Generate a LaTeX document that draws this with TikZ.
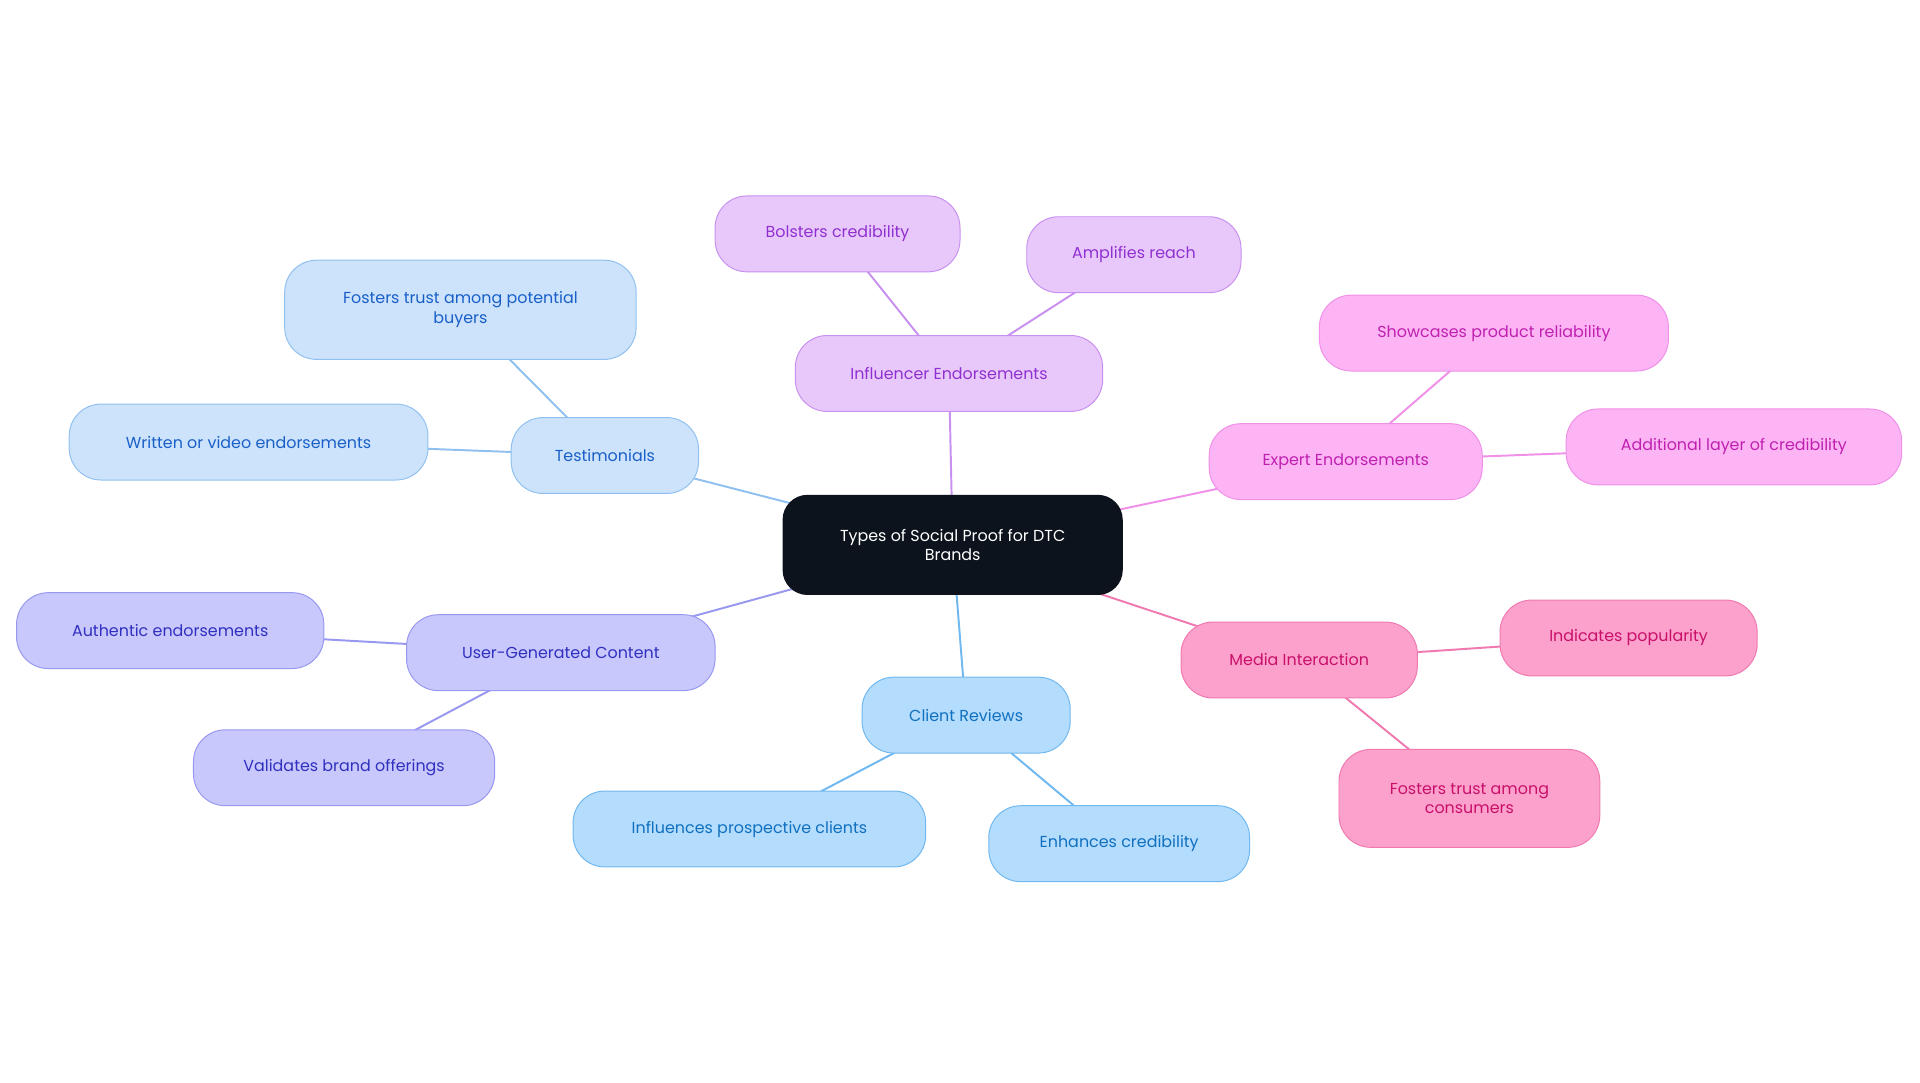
\documentclass[tikz,border=0pt]{standalone}
\usepackage{fontspec}
\setmainfont{Poppins}
\usetikzlibrary{backgrounds}
\definecolor{tf}{HTML}{CCE3FB}\definecolor{tb}{HTML}{90C0F0}\definecolor{tt}{HTML}{1A5FC8}
\definecolor{if}{HTML}{E8C8FB}\definecolor{ib}{HTML}{C890F0}\definecolor{it}{HTML}{9030D0}
\definecolor{ef}{HTML}{FCB4F4}\definecolor{eb}{HTML}{F090E8}\definecolor{et}{HTML}{C020B0}
\definecolor{mf}{HTML}{FCA0CC}\definecolor{mb}{HTML}{F07AB0}\definecolor{mt}{HTML}{C8106A}
\definecolor{cf}{HTML}{B4DCFC}\definecolor{cb}{HTML}{70B8F0}\definecolor{ct}{HTML}{1070C0}
\definecolor{uf}{HTML}{C8C8FC}\definecolor{ub}{HTML}{9898F0}\definecolor{ut}{HTML}{3030C0}
\tikzset{
 bx/.style={draw, line width=0.8pt, rounded corners=26pt, align=center, inner sep=0pt, font=\fontsize{13}{13}\selectfont},
 tn/.style={bx, fill=tf, draw=tb, text=tt}, in/.style n args={0}{},
 inn/.style={bx, fill=if, draw=ib, text=it},
 en/.style={bx, fill=ef, draw=eb, text=et},
 mn/.style={bx, fill=mf, draw=mb, text=mt},
 cn/.style={bx, fill=cf, draw=cb, text=ct},
 un/.style={bx, fill=uf, draw=ub, text=ut},
 ln/.style={line width=1.6pt},
}
\begin{document}
\begin{tikzpicture}[x=1pt,y=-1pt]
\useasboundingbox (0,0) rectangle (1568,884);
\node[bx, fill=black!90!blue!60!black, fill={rgb,255:red,13;green,19;blue,28}, draw={rgb,255:red,13;green,19;blue,28}, text=white, minimum width=277pt, minimum height=81pt, rounded corners=20pt] (c) at (778,445) {Types of Social Proof for DTC\\[2pt]Brands};
\node[tn, minimum width=153pt, minimum height=62pt] (t) at (494,372) {Testimonials};
\node[tn, minimum width=287pt, minimum height=81pt] (t1) at (376,253) {Fosters trust among potential\\[2pt]buyers};
\node[tn, minimum width=293pt, minimum height=62pt] (t2) at (203,361) {Written or video endorsements};
\node[inn, minimum width=251pt, minimum height=62pt] (i) at (775,305) {Influencer Endorsements};
\node[inn, minimum width=200pt, minimum height=62pt] (i1) at (684,191) {Bolsters credibility};
\node[inn, minimum width=175pt, minimum height=62pt] (i2) at (926,208) {Amplifies reach};
\node[en, minimum width=223pt, minimum height=62pt] (e) at (1099,377) {Expert Endorsements};
\node[en, minimum width=285pt, minimum height=62pt] (e1) at (1220,272) {Showcases product reliability};
\node[en, minimum width=274pt, minimum height=62pt] (e2) at (1416,365) {Additional layer of credibility};
\node[mn, minimum width=193pt, minimum height=62pt] (m) at (1061,539) {Media Interaction};
\node[mn, minimum width=210pt, minimum height=62pt] (m1) at (1330,521) {Indicates popularity};
\node[mn, minimum width=213pt, minimum height=80pt] (m2) at (1200,652) {Fosters trust among\\[2pt]consumers};
\node[cn, minimum width=170pt, minimum height=62pt] (r) at (789,584) {Client Reviews};
\node[cn, minimum width=288pt, minimum height=62pt] (r1) at (612,677) {Influences prospective clients};
\node[cn, minimum width=213pt, minimum height=62pt] (r2) at (914,689) {Enhances credibility};
\node[un, minimum width=252pt, minimum height=62pt] (u) at (458,533) {User-Generated Content};
\node[un, minimum width=251pt, minimum height=62pt] (u1) at (139,515) {Authentic endorsements};
\node[un, minimum width=246pt, minimum height=62pt] (u2) at (281,627) {Validates brand offerings};
\begin{scope}[on background layer]
\draw[ln, tb] (c.center) -- (t.center) (t.center) -- (t1.center) (t.center) -- (t2.center);
\draw[ln, ib] (c.center) -- (i.center) (i.center) -- (i1.center) (i.center) -- (i2.center);
\draw[ln, eb] (c.center) -- (e.center) (e.center) -- (e1.center) (e.center) -- (e2.center);
\draw[ln, mb] (c.center) -- (m.center) (m.center) -- (m1.center) (m.center) -- (m2.center);
\draw[ln, cb] (c.center) -- (r.center) (r.center) -- (r1.center) (r.center) -- (r2.center);
\draw[ln, ub] (c.center) -- (u.center) (u.center) -- (u1.center) (u.center) -- (u2.center);
\end{scope}
\end{tikzpicture}
\end{document}
